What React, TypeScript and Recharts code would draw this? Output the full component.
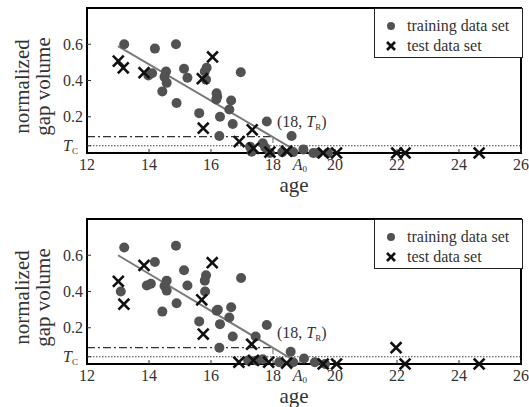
import React from 'react';
import {Legend, ReferenceArea, ReferenceLine, Scatter, ScatterChart, XAxis, YAxis} from 'recharts';

const FONT = "'Liberation Serif', 'DejaVu Serif', serif";
const txt = {fontFamily: FONT};

// threshold values and axis ticks
const T_C = 0.04;
const T_R = 0.09;
const A_0 = 18.87;
const xTicks = [12, 14, 16, 18, A_0, 20, 22, 24, 26];
const yTicks = [T_C, 0.2, 0.4, 0.6];

// [age, normalized gap volume]
const topTraining: [number, number][] = [
  [13.2, 0.6], [14.19, 0.576], [14.87, 0.6], [13.98, 0.428], [14.1, 0.44], [14.55, 0.45],
  [14.5, 0.42], [14.57, 0.387], [14.43, 0.34], [14.89, 0.276], [15.13, 0.465], [15.24, 0.415],
  [15.86, 0.47], [15.8, 0.45], [15.84, 0.405], [15.62, 0.22], [16.18, 0.33], [16.2, 0.31],
  [16.17, 0.295], [16.29, 0.2], [16.65, 0.29], [16.59, 0.24], [16.7, 0.16], [16.96, 0.446],
  [16.27, 0.094], [17.26, 0.035], [17.31, 0.007], [17.67, 0.054], [17.8, 0.174], [17.75, 0.03],
  [18.6, 0.094], [18.65, 0.005], [18.98, 0.02], [19.3, 0], [19.45, 0], [19.77, 0], [17.9, 0], [18.3, 0.005],
];
const topTest: [number, number][] = [
  [13.01, 0.507], [13.17, 0.47], [13.84, 0.443], [15.72, 0.41], [16.05, 0.53], [15.75, 0.137],
  [17.33, 0.128], [16.91, 0.063], [17.37, 0.026], [17.9, 0.005], [18.44, 0.01], [19.62, 0],
  [20.05, 0], [21.99, 0], [22.26, 0], [24.65, 0],
];
const bottomTraining: [number, number][] = [
  [13.2, 0.643], [13.09, 0.4], [13.93, 0.433], [14.06, 0.443], [14.19, 0.563], [14.87, 0.652],
  [14.57, 0.46], [14.5, 0.43], [14.57, 0.405], [14.43, 0.289], [14.89, 0.335], [15.13, 0.517],
  [15.24, 0.433], [15.84, 0.489], [15.8, 0.46], [15.81, 0.4], [15.62, 0.235], [16.18, 0.294],
  [16.22, 0.3], [16.29, 0.22], [16.65, 0.313], [16.59, 0.257], [16.7, 0.152], [16.97, 0.474],
  [16.27, 0.09], [17.44, 0.152], [17.8, 0.215], [17.67, 0.026], [18.57, 0.068], [18.65, 0.01],
  [19.0, 0.03], [19.35, 0.01], [19.68, 0], [17.2, 0.02], [17.47, 0.02], [18.2, 0.01],
];
const bottomTest: [number, number][] = [
  [13.01, 0.456], [13.19, 0.33], [13.84, 0.544], [15.7, 0.354], [16.04, 0.559], [15.75, 0.165],
  [17.31, 0.109], [16.9, 0.01], [17.37, 0.02], [17.86, 0.01], [18.44, 0.005], [19.62, 0],
  [20.05, 0], [21.97, 0.09], [22.26, 0], [24.65, 0],
];

// fitted lines, start and end point
const topFit: [number, number][] = [[13, 0.59], [A_0, 0]];
const bottomFit: [number, number][] = [[13, 0.6], [A_0, 0]];

const toPoints = (arr: [number, number][]) => arr.map(([age, v]) => ({age, v}));

const Dot = ({cx, cy}: any) => <circle cx={cx} cy={cy} r={5} fill="#525252"/>;

const Cross = ({cx, cy}: any) => (
  <g stroke="#111" strokeWidth={2.6} strokeLinecap="square">
    <line x1={cx - 4.5} y1={cy - 4.5} x2={cx + 4.5} y2={cy + 4.5}/>
    <line x1={cx - 4.5} y1={cy + 4.5} x2={cx + 4.5} y2={cy - 4.5}/>
  </g>
);

const TrLabel = ({cx, cy}: any) => (
  <text x={cx} y={cy} fontSize={16} fill="#333" style={txt}>
    (18, <tspan fontStyle="italic">T</tspan><tspan fontSize={9} dy={3}>R</tspan><tspan dy={-3}>)</tspan>
  </text>
);

const AgeTick = ({x, y, payload}: any) => {
  if (payload.value === A_0) {
    return (
      <text x={x} y={y} dy="0.72em" textAnchor="middle" fontSize={16} fill="#333" style={txt}>
        <tspan fontStyle="italic">A</tspan><tspan fontSize={9} dy={2}>0</tspan>
      </text>
    );
  }
  return (
    <text x={x} y={y} dy="0.72em" textAnchor="middle" fontSize={16} fill="#333" style={txt}>
      {payload.value}
    </text>
  );
};

const VolTick = ({x, y, payload}: any) => {
  if (payload.value === T_C) {
    return (
      <text x={x - 5} y={y} dy="0.35em" textAnchor="end" fontSize={16} fill="#333" style={txt}>
        <tspan fontStyle="italic">T</tspan><tspan fontSize={9} dy={3}>C</tspan>
      </text>
    );
  }
  return (
    <text x={x} y={y} dy="0.35em" textAnchor="end" fontSize={16} fill="#333" style={txt}>
      {payload.value}
    </text>
  );
};

const YLabel = ({viewBox}: any) => {
  const cy = viewBox.y + viewBox.height / 2 + 6;
  return (
    <g fontSize={21} fill="#333" style={txt}>
      <text transform={`translate(${viewBox.x + 29},${cy}) rotate(-90)`} textAnchor="middle" style={txt}>normalized</text>
      <text transform={`translate(${viewBox.x + 50},${cy}) rotate(-90)`} textAnchor="middle" style={txt}>gap volume</text>
    </g>
  );
};

const XLabel = ({viewBox}: any) => (
  <text x={viewBox.x + viewBox.width / 2 - 10} y={viewBox.y + 39} textAnchor="middle" fontSize={21}
        fill="#333" style={txt}>age</text>
);

const LegendBox = () => (
  <svg width={147} height={48} style={{display: 'block'}}>
    <circle cx={16} cy={17} r={4} fill="#525252"/>
    <text x={32} y={22} fontSize={16} fill="#333" style={txt}>training data set</text>
    <g stroke="#111" strokeWidth={2.6}>
      <line x1={12} y1={33} x2={20} y2={41}/>
      <line x1={12} y1={41} x2={20} y2={33}/>
    </g>
    <text x={32} y={42} fontSize={16} fill="#333" style={txt}>test data set</text>
  </svg>
);

interface IPanelProps {
  training: [number, number][];
  test: [number, number][];
  fit: [number, number][];
  top: number;
}

const Panel = ({training, test, fit, top}: IPanelProps) => (
  <ScatterChart width={529} height={204} margin={{top, right: 8, bottom: 0, left: 0}} style={txt}>
    <XAxis
      dataKey="age"
      type="number"
      domain={[12, 26]}
      ticks={xTicks}
      tick={<AgeTick/>}
      tickSize={-4}
      tickMargin={9}
      tickLine={{stroke: '#333'}}
      axisLine={{stroke: '#000', strokeWidth: 2}}
      height={204 - top - 145}
      label={<XLabel/>}
      interval={0}
    />
    <YAxis
      dataKey="v"
      type="number"
      domain={[0, 0.8]}
      ticks={yTicks}
      tick={<VolTick/>}
      tickSize={-4}
      tickMargin={8}
      tickLine={{stroke: '#333'}}
      axisLine={{stroke: '#000', strokeWidth: 2}}
      width={87}
      label={<YLabel/>}
      interval={0}
    />
    <Legend
      layout="horizontal"
      verticalAlign="middle"
      align="center"
      content={() => <LegendBox/>}
      wrapperStyle={{left: 374, top: top, width: 147, height: 48, border: '1.5px solid #222', background: '#fff'}}
    />
    <ReferenceArea x1={12} x2={26} y1={0} y2={0.8} fill="none" stroke="#000" strokeWidth={2}/>
    <ReferenceLine y={T_C} stroke="#444" strokeDasharray="1.5 1.5" strokeWidth={1.2}/>
    <ReferenceLine segment={[{x: 12, y: T_R}, {x: 18, y: T_R}]} stroke="#333" strokeDasharray="8 3 2 3"
                   strokeWidth={1.2}/>
    <ReferenceLine segment={[{x: 18, y: T_R}, {x: 18, y: 0.055}]} stroke="#666" strokeWidth={1}/>
    <Scatter data={toPoints(training)} shape={<Dot/>} isAnimationActive={false}/>
    <Scatter data={toPoints(test)} shape={<Cross/>} isAnimationActive={false}/>
    <ReferenceLine segment={fit.map(([x, y]) => ({x, y}))} stroke="#7a7a7a" strokeWidth={2}/>
    <Scatter data={[{age: 18.13, v: 0.145}]} shape={<TrLabel/>} isAnimationActive={false}/>
  </ScatterChart>
);

const App = () => (
  <div style={{position: 'absolute', left: 0, top: 0, width: 529, height: 407, background: '#fff', fontFamily: FONT}}>
    <Panel training={topTraining} test={topTest} fit={topFit} top={8}/>
    <Panel training={bottomTraining} test={bottomTest} fit={bottomFit} top={15}/>
  </div>
);

export default App;
